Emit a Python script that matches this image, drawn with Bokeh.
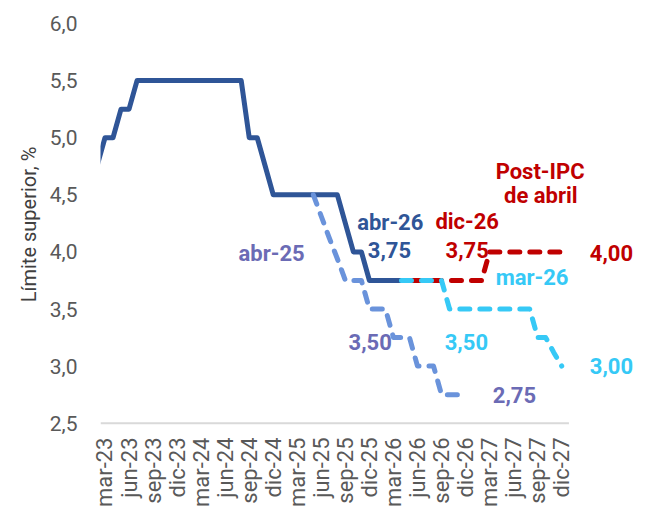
from math import pi
from bokeh.plotting import figure
from bokeh.models import Range1d, FixedTicker, Label, ColumnDataSource
from bokeh.embed import file_html
from bokeh.resources import INLINE

# ---- data -------------------------------------------------------------
month_abbr = ["ene", "feb", "mar", "abr", "may", "jun", "jul", "ago", "sep", "oct", "nov", "dic"]
months = [f"{m}-{y}" for y in ["23", "24", "25", "26", "27"] for m in month_abbr][1:]  # feb-23 .. dic-27

tick_labels = ["mar-23", "jun-23", "sep-23", "dic-23", "mar-24", "jun-24", "sep-24", "dic-24",
               "mar-25", "jun-25", "sep-25", "dic-25", "mar-26", "jun-26", "sep-26", "dic-26",
               "mar-27", "jun-27", "sep-27", "dic-27"]

y_ticks = [2.5, 3.0, 3.5, 4.0, 4.5, 5.0, 5.5, 6.0]
y_tick_labels = ["2,5", "3,0", "3,5", "4,0", "4,5", "5,0", "5,5", "6,0"]

# Actual upper limit (feb-23 .. abr-26)
actual_start = "feb-23"
actual_values = [4.75, 5.00, 5.00, 5.25, 5.25, 5.50, 5.50, 5.50, 5.50, 5.50, 5.50,
                 5.50, 5.50, 5.50, 5.50, 5.50, 5.50, 5.50, 5.50, 5.00, 5.00, 4.75, 4.50,
                 4.50, 4.50, 4.50, 4.50, 4.50, 4.50, 4.50, 4.50, 4.25, 4.00, 4.00, 3.75,
                 3.75, 3.75, 3.75, 3.75]

# Expectations as of abr-25 (may-25 .. nov-26)
abr25_start = "may-25"
abr25_values = [4.50, 4.31, 4.12, 3.94, 3.75, 3.75, 3.75, 3.50, 3.50, 3.50,
                3.25, 3.25, 3.25, 3.00, 3.00, 3.00, 2.75, 2.75, 2.75]

# Expectations as of mar-26 (abr-26 .. dic-27)
mar26_start = "abr-26"
mar26_values = [3.75, 3.75, 3.75, 3.75, 3.75, 3.75, 3.50, 3.50, 3.50, 3.50, 3.50,
                3.50, 3.50, 3.50, 3.50, 3.50, 3.50, 3.25, 3.25, 3.12, 3.00]

# Expectations post-IPC de abril (abr-26 .. dic-27)
dic26_start = "abr-26"
dic26_values = [3.75, 3.75, 3.75, 3.75, 3.75, 3.75, 3.75, 3.75, 3.75, 3.75, 3.75,
                4.00, 4.00, 4.00, 4.00, 4.00, 4.00, 4.00, 4.00, 4.00, 4.00]

axis_start, axis_end = 0.44, 58.9   # extent of the category axis (month index)


def series_xy(start, values):
    i0 = months.index(start)
    return ColumnDataSource(dict(x=list(range(i0, i0 + len(values))), y=values))


# ---- styling -----------------------------------------------------------
C_MAIN = "#2F5597"
C_ABR25_LINE = "#6A93DB"
C_ABR25_TXT = "#6B6BB5"
C_RED = "#C00000"
C_CYAN = "#36C9F6"
FONT = "Roboto"

p = figure(width=640, height=510,
           x_range=Range1d(axis_start, 67.83), y_range=Range1d(2.48, 6.0),
           output_backend="svg", toolbar_location=None,
           min_border_left=100, min_border_right=0, min_border_top=23, min_border_bottom=82)
p.outline_line_color = None
p.xgrid.visible = False
p.ygrid.visible = False
p.background_fill_color = "white"
p.border_fill_color = "white"

# x axis
p.xaxis.ticker = FixedTicker(ticks=[months.index(t) for t in tick_labels])
p.xaxis.major_label_overrides = {months.index(t): t for t in tick_labels}
p.xaxis.major_label_orientation = pi / 2
p.xaxis.major_label_text_font = FONT
p.xaxis.major_label_text_font_size = "22px"
p.xaxis.major_label_text_color = "#595959"
p.xaxis.major_label_standoff = 12
p.xaxis.axis_line_color = None
p.xaxis.major_tick_line_color = None
p.xaxis.minor_tick_line_color = None
p.xaxis.major_tick_out = 0
p.xaxis.major_tick_in = 0

# y axis
p.yaxis.ticker = FixedTicker(ticks=y_ticks)
p.yaxis.major_label_overrides = {t: l for t, l in zip(y_ticks, y_tick_labels)}
p.yaxis.major_label_text_font = FONT
p.yaxis.major_label_text_font_size = "21px"
p.yaxis.major_label_text_color = "#595959"
p.yaxis.major_label_standoff = 23
p.yaxis.axis_line_color = None
p.yaxis.major_tick_line_color = None
p.yaxis.minor_tick_line_color = None
p.yaxis.major_tick_out = 0
p.yaxis.major_tick_in = 0
p.yaxis.axis_label = "Límite superior, %"
p.yaxis.axis_label_text_font = FONT
p.yaxis.axis_label_text_font_style = "normal"
p.yaxis.axis_label_text_font_size = "20px"
p.yaxis.axis_label_text_color = "#404040"
p.yaxis.axis_label_standoff = 6

# category axis line (only as long as the category range)
p.segment(x0=[axis_start], y0=[2.5], x1=[axis_end], y1=[2.5], line_color="#D9D9D9", line_width=2)

# lines
p.line("x", "y", source=series_xy(actual_start, actual_values), line_color=C_MAIN,
       line_width=5, line_join="round")
p.line("x", "y", source=series_xy(abr25_start, abr25_values), line_color=C_ABR25_LINE,
       line_width=5, line_dash="10 10", line_cap="round", line_join="round")
p.line("x", "y", source=series_xy(dic26_start, dic26_values), line_color=C_RED,
       line_width=5, line_dash="10 10", line_dash_offset=10, line_cap="round", line_join="round")
p.line("x", "y", source=series_xy(mar26_start, mar26_values), line_color=C_CYAN,
       line_width=5, line_dash="10 10", line_cap="round", line_join="round")

# text labels (x in month index, y in %)
labels = [
    ("abr-25", 21.8, 3.99, C_ABR25_TXT),
    ("abr-26", 36.6, 4.26, C_MAIN),
    ("3,75", 36.5, 4.02, C_MAIN),
    ("dic-26", 46.2, 4.27, C_RED),
    ("3,75", 46.2, 4.02, C_RED),
    ("Post-IPC", 55.3, 4.70, C_RED),
    ("de abril", 55.4, 4.49, C_RED),
    ("4,00", 64.2, 3.99, C_RED),
    ("mar-26", 54.3, 3.78, C_CYAN),
    ("3,00", 64.2, 3.00, C_CYAN),
    ("3,50", 34.1, 3.21, C_ABR25_TXT),
    ("3,50", 46.1, 3.21, C_CYAN),
    ("2,75", 52.1, 2.75, C_ABR25_TXT),
]
for txt, lx, ly, col in labels:
    p.add_layout(Label(x=lx, y=ly, text=txt, text_color=col, text_font=FONT,
                       text_font_style="bold", text_font_size="22px",
                       text_align="center", text_baseline="middle"))

open("out.html", "w").write(file_html(p, INLINE))
